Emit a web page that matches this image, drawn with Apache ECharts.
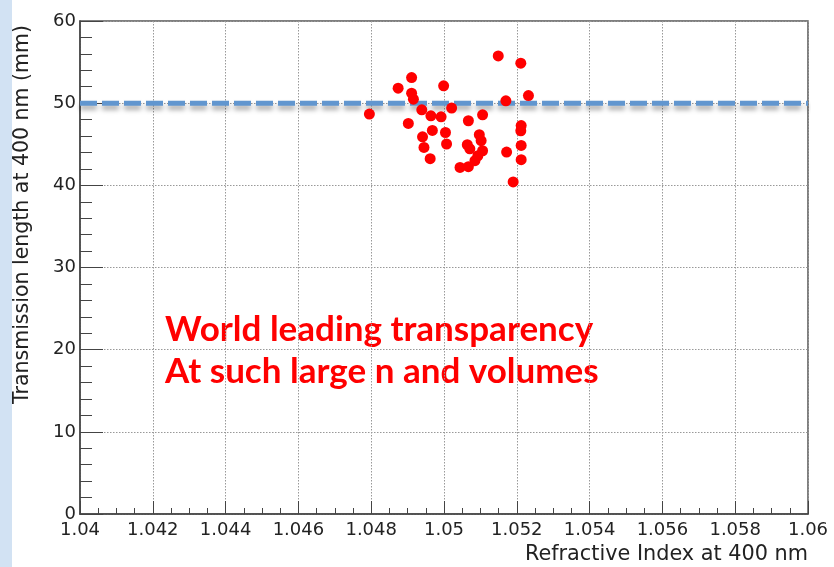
<!DOCTYPE html>
<html>
<head>
<meta charset="utf-8">
<script src="https://cdn.jsdelivr.net/npm/echarts@6/dist/echarts.min.js"></script>
<style>html,body{margin:0;padding:0;background:#fff;}#chart{width:834px;height:567px;}</style>
</head>
<body>
<div id="chart"></div>
<script>
// Refractive index (x) of each sample
var refractiveIndex = [
  1.05149, 1.05211, 1.05232, 1.05170, 1.04911, 1.04874, 1.04999, 1.04911, 1.04916, 1.04795,
  1.04939, 1.04964, 1.04992, 1.05021, 1.04902, 1.04941, 1.04968, 1.05004, 1.04945, 1.05007,
  1.04962, 1.05044, 1.05106, 1.05067, 1.05212, 1.05211, 1.05097, 1.05102, 1.05064, 1.05071,
  1.05106, 1.05172, 1.05212, 1.05212, 1.05085, 1.05093, 1.05067, 1.05190
];
// Transmission length at 400 nm (mm) of each sample
var transmissionLength = [
  55.75, 54.86, 50.93, 50.28, 53.11, 51.83, 52.11, 51.22, 50.49, 48.67,
  49.19, 48.46, 48.34, 49.40, 47.53, 45.91, 46.68, 46.43, 44.61, 45.03,
  43.24, 42.18, 48.58, 47.86, 47.28, 46.64, 46.16, 45.43, 44.94, 44.45,
  44.21, 44.05, 44.86, 43.12, 43.00, 43.60, 42.27, 40.41
];
var xRange = [1.04, 1.06];
var xInterval = 0.002;
var yRange = [0, 60];
var yInterval = 10;
var thresholdLength = 50;
var annotationLines = ["World leading transparency", "At such large n and volumes"];
var xTitle = "Refractive Index at 400 nm";
var yTitle = "Transmission length at 400 nm (mm)";

var points = refractiveIndex.map(function (x, i) { return [x, transmissionLength[i]]; });
var thresholdLine = [[xRange[0], thresholdLength], [xRange[1], thresholdLength]];

var chart = echarts.init(document.getElementById('chart'), null, {renderer: 'canvas'});
var tickFont = 'DejaVu Sans';
chart.setOption({
  animation: false,
  backgroundColor: '#ffffff',
  grid: {left: 80, right: 26, top: 21, bottom: 53, show: true, borderColor: '#555', borderWidth: 1.5, backgroundColor: 'transparent'},
  xAxis: {
    type: 'value', min: xRange[0], max: xRange[1], interval: xInterval,
    axisLine: {show: true, onZero: false, lineStyle: {color: '#444', width: 1.5}},
    axisTick: {show: true, inside: true, length: 13, lineStyle: {color: '#444', width: 1}},
    minorTick: {show: true, splitNumber: 4, length: 6, lineStyle: {color: '#444', width: 1}},
    splitLine: {show: true, lineStyle: {color: '#999', type: [1.5, 1.5], width: 1}},
    axisLabel: {color: '#222', fontFamily: tickFont, fontSize: 18, margin: 7,
      formatter: function (v) { return String(parseFloat(v.toFixed(3))); }}
  },
  yAxis: {
    type: 'value', min: yRange[0], max: yRange[1], interval: yInterval,
    axisLine: {show: true, onZero: false, lineStyle: {color: '#444', width: 1.5}},
    axisTick: {show: true, inside: true, length: 23, lineStyle: {color: '#444', width: 1}},
    minorTick: {show: true, splitNumber: 5, length: 12, lineStyle: {color: '#444', width: 1}},
    splitLine: {show: true, lineStyle: {color: '#999', type: [1.5, 1.5], width: 1}},
    axisLabel: {color: '#222', fontFamily: tickFont, fontSize: 18, margin: 4}
  },
  graphic: [
    {type: 'rect', left: 0, top: 0, shape: {width: 12, height: 567}, style: {fill: '#d2e2f3'}, z: -10},
    {type: 'text', x: 808, y: 555, style: {text: xTitle, fontFamily: tickFont, fontSize: 20.8, fill: '#222', align: 'right', verticalAlign: 'middle'}},
    {type: 'text', x: 23, y: 25, rotation: Math.PI / 2, style: {text: yTitle, fontFamily: tickFont, fontSize: 20.5, fill: '#222', align: 'right', verticalAlign: 'middle'}},
    {type: 'text', x: 165, y: 330, style: {text: annotationLines[0], fontFamily: 'Lato', fontWeight: 'bold', fontSize: 35, fill: '#ff0000', align: 'left', verticalAlign: 'middle'}},
    {type: 'text', x: 165, y: 372, style: {text: annotationLines[1], fontFamily: 'Lato', fontWeight: 'bold', fontSize: 35, fill: '#ff0000', align: 'left', verticalAlign: 'middle'}}
  ],
  series: [
    {
      type: 'line', data: thresholdLine, symbol: 'none', silent: true, z: 2,
      lineStyle: {color: '#6196cf', width: 5, type: [17, 5],
        shadowColor: 'rgba(0,0,0,0.35)', shadowBlur: 5, shadowOffsetY: 4}
    },
    {
      type: 'scatter', data: points, symbol: 'circle', symbolSize: 11, z: 3,
      itemStyle: {color: '#ff0000', opacity: 1}
    }
  ]
});
</script>
</body>
</html>
